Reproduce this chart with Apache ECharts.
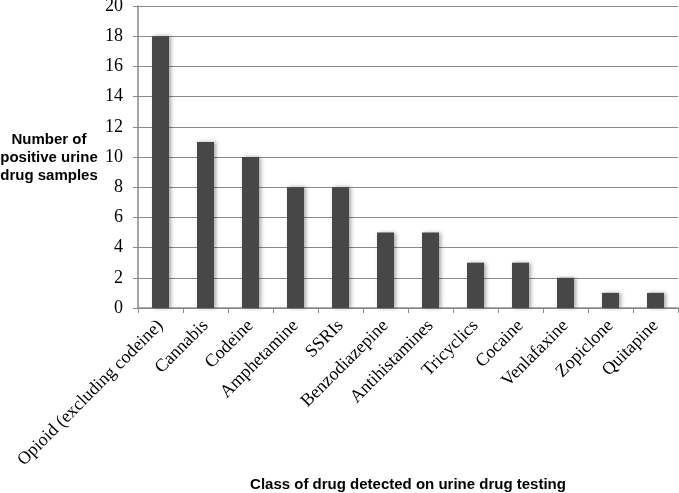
<!DOCTYPE html>
<html lang="en">
  <head>
    <meta charset="utf-8">
    <title>urine drug testing</title>
    <script src="https://cdn.jsdelivr.net/npm/echarts@6/dist/echarts.min.js"></script>
  </head>
  <body style="margin:0">
    <div id="chart" style="width:679px;height:493px"></div>
    <script>
      // drug classes and counts
      var drugClasses = ['Opioid (excluding codeine)', 'Cannabis', 'Codeine', 'Amphetamine', 'SSRIs',
        'Benzodiazepine', 'Antihistamines', 'Tricyclics', 'Cocaine', 'Venlafaxine', 'Zopiclone', 'Quitapine'];
      var sampleCounts = [18, 11, 10, 8, 8, 5, 5, 3, 3, 2, 1, 1];
      var yTicks = [0, 2, 4, 6, 8, 10, 12, 14, 16, 18, 20];
      var yTitle = 'Number of\npositive urine\ndrug samples';
      var xTitle = 'Class of drug detected on urine drug testing';

      var serif = '"Liberation Serif", serif';
      var sans = '"Liberation Sans", Arial';
      var axisGray = '#8a8a8a';

      var myChart = echarts.init(document.getElementById('chart'));
      var option = {
        animation: false,
        grid: { left: 138, right: 1, top: 6, bottom: 185, outerBoundsMode: 'none', containLabel: false },
        graphic: [{
          type: 'text',
          x: 49,
          y: 158,
          style: {
            text: yTitle,
            font: 'bold 15px ' + sans,
            lineHeight: 18,
            fill: '#000',
            align: 'center',
            verticalAlign: 'middle'
          }
        }],
        xAxis: {
          type: 'category',
          data: drugClasses,
          name: xTitle,
          nameLocation: 'middle',
          nameGap: 169,
          nameTextStyle: { fontFamily: sans, fontWeight: 'bold', fontSize: 15, color: '#000' },
          axisLine: { lineStyle: { color: axisGray, width: 1.5 } },
          axisTick: { show: true, length: 5, lineStyle: { color: axisGray } },
          axisLabel: { rotate: 45, interval: 0, margin: 15, fontFamily: serif, fontSize: 18, color: '#000' }
        },
        yAxis: {
          type: 'value',
          min: yTicks[0],
          max: yTicks[yTicks.length - 1],
          interval: 2,
          axisLine: { show: true, lineStyle: { color: axisGray, width: 1.5 } },
          axisTick: { show: true, length: 5, lineStyle: { color: axisGray } },
          axisLabel: { margin: 15, fontFamily: serif, fontSize: 18, color: '#000' },
          splitLine: { lineStyle: { color: axisGray, width: 1.2 } }
        },
        series: [{
          type: 'bar',
          data: sampleCounts,
          barWidth: 17,
          itemStyle: {
            color: '#474747',
            shadowColor: 'rgba(0,0,0,0.35)',
            shadowBlur: 4,
            shadowOffsetX: 2,
            shadowOffsetY: 0
          }
        }]
      };
      option && myChart.setOption(option);
    </script>
  </body>
</html>
